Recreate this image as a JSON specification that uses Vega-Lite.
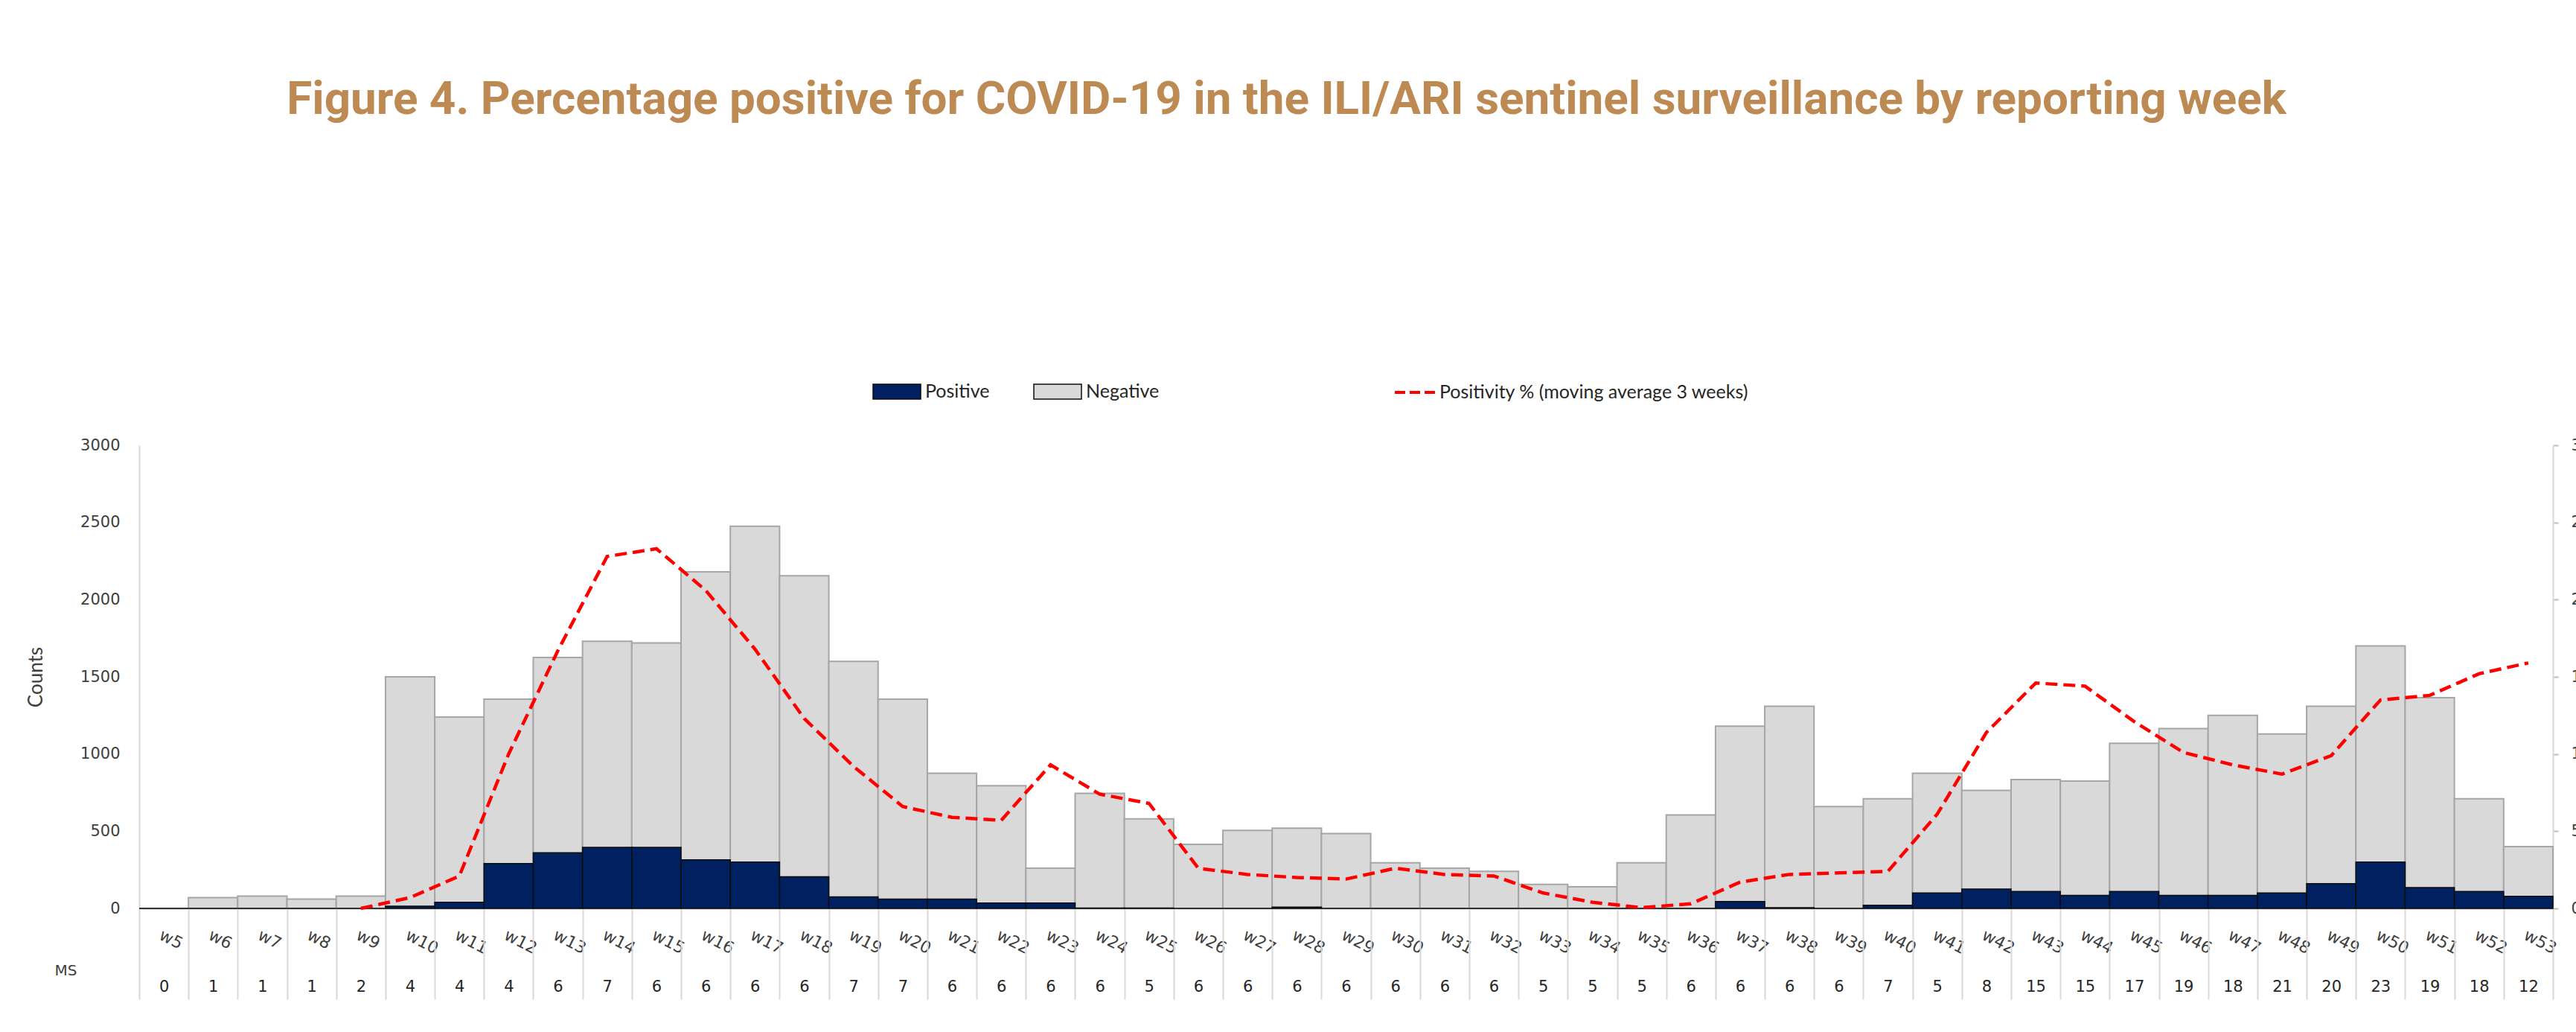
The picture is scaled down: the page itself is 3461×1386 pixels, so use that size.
{
  "$schema": "https://vega.github.io/schema/vega-lite/v6.json",
  "width": 3243,
  "height": 622,
  "autosize": {"type": "none"},
  "padding": {"left": 187, "top": 598, "right": 31, "bottom": 166},
  "background": "white",
  "title": {
    "text": "Figure 4. Percentage positive for COVID-19 in the ILI/ARI sentinel surveillance by reporting week",
    "font": "Liberation Sans Narrow, Roboto",
    "fontSize": 62,
    "fontWeight": "bold",
    "color": "#BC8A52",
    "anchor": "middle",
    "dx": -80,
    "offset": 327
  },
  "data": {
    "values": [
      {"week_ms": "w5|0", "tested": 0, "positive": 0, "pct": null},
      {"week_ms": "w6|1", "tested": 70, "positive": 0, "pct": null},
      {"week_ms": "w7|1", "tested": 80, "positive": 0, "pct": null},
      {"week_ms": "w8|1", "tested": 60, "positive": 0, "pct": null},
      {"week_ms": "w9|2", "tested": 80, "positive": 0, "pct": 0},
      {"week_ms": "w10|4", "tested": 1500, "positive": 15, "pct": 0.7},
      {"week_ms": "w11|4", "tested": 1240, "positive": 40, "pct": 2.1},
      {"week_ms": "w12|4", "tested": 1355, "positive": 290, "pct": 10.0},
      {"week_ms": "w13|6", "tested": 1625, "positive": 360, "pct": 16.7},
      {"week_ms": "w14|7", "tested": 1730, "positive": 395, "pct": 22.8},
      {"week_ms": "w15|6", "tested": 1720, "positive": 395, "pct": 23.3},
      {"week_ms": "w16|6", "tested": 2180, "positive": 315, "pct": 20.6},
      {"week_ms": "w17|6", "tested": 2475, "positive": 300, "pct": 16.8},
      {"week_ms": "w18|6", "tested": 2155, "positive": 205, "pct": 12.3},
      {"week_ms": "w19|7", "tested": 1600, "positive": 75, "pct": 9.2},
      {"week_ms": "w20|7", "tested": 1355, "positive": 60, "pct": 6.6},
      {"week_ms": "w21|6", "tested": 875, "positive": 60, "pct": 5.9},
      {"week_ms": "w22|6", "tested": 795, "positive": 35, "pct": 5.7},
      {"week_ms": "w23|6", "tested": 260, "positive": 35, "pct": 9.3},
      {"week_ms": "w24|6", "tested": 745, "positive": 3, "pct": 7.4},
      {"week_ms": "w25|5", "tested": 580, "positive": 3, "pct": 6.8},
      {"week_ms": "w26|6", "tested": 415, "positive": 0, "pct": 2.6},
      {"week_ms": "w27|6", "tested": 505, "positive": 0, "pct": 2.2},
      {"week_ms": "w28|6", "tested": 520, "positive": 8, "pct": 2.0},
      {"week_ms": "w29|6", "tested": 485, "positive": 0, "pct": 1.9},
      {"week_ms": "w30|6", "tested": 295, "positive": 0, "pct": 2.6},
      {"week_ms": "w31|6", "tested": 260, "positive": 0, "pct": 2.2},
      {"week_ms": "w32|6", "tested": 240, "positive": 0, "pct": 2.1},
      {"week_ms": "w33|5", "tested": 155, "positive": 0, "pct": 1.0},
      {"week_ms": "w34|5", "tested": 140, "positive": 0, "pct": 0.4},
      {"week_ms": "w35|5", "tested": 295, "positive": 0, "pct": 0.05},
      {"week_ms": "w36|6", "tested": 605, "positive": 0, "pct": 0.3},
      {"week_ms": "w37|6", "tested": 1180, "positive": 45, "pct": 1.7},
      {"week_ms": "w38|6", "tested": 1310, "positive": 5, "pct": 2.2},
      {"week_ms": "w39|6", "tested": 660, "positive": 0, "pct": 2.3},
      {"week_ms": "w40|7", "tested": 710, "positive": 20, "pct": 2.4},
      {"week_ms": "w41|5", "tested": 875, "positive": 100, "pct": 6.1},
      {"week_ms": "w42|8", "tested": 765, "positive": 125, "pct": 11.4},
      {"week_ms": "w43|15", "tested": 835, "positive": 110, "pct": 14.6},
      {"week_ms": "w44|15", "tested": 825, "positive": 85, "pct": 14.4},
      {"week_ms": "w45|17", "tested": 1070, "positive": 110, "pct": 12.1},
      {"week_ms": "w46|19", "tested": 1165, "positive": 85, "pct": 10.1},
      {"week_ms": "w47|18", "tested": 1250, "positive": 85, "pct": 9.3},
      {"week_ms": "w48|21", "tested": 1130, "positive": 100, "pct": 8.7},
      {"week_ms": "w49|20", "tested": 1310, "positive": 160, "pct": 9.9},
      {"week_ms": "w50|23", "tested": 1700, "positive": 300, "pct": 13.5},
      {"week_ms": "w51|19", "tested": 1365, "positive": 135, "pct": 13.8},
      {"week_ms": "w52|18", "tested": 710, "positive": 110, "pct": 15.2},
      {"week_ms": "w53|12", "tested": 400, "positive": 78, "pct": 15.9}
    ]
  },
  "layer": [
    {
      "layer": [
        {
          "mark": {"type": "bar", "stroke": "#A6A6A6", "strokeWidth": 2},
          "encoding": {
            "x": {
              "field": "week_ms", "type": "ordinal", "sort": null,
              "scale": {"paddingInner": 0, "paddingOuter": 0},
              "axis": {
                "orient": "bottom",
                "title": null,
                "labelExpr": "split(datum.value, '|')[0]",
                "labelAngle": 27,
                "labelAlign": "left",
                "labelBaseline": "top",
                "labelFont": "DejaVu Sans",
                "labelFontSize": 22,
                "labelColor": "#404040",
                "labelPadding": 25,
                "ticks": false,
                "domainColor": "#BFBFBF",
                "domainWidth": 2,
                "grid": false
              }
            },
            "y": {
              "field": "tested", "type": "quantitative",
              "scale": {"domain": [0, 3000], "nice": false},
              "axis": {
                "orient": "left",
                "values": [0, 500, 1000, 1500, 2000, 2500, 3000],
                "format": "d",
                "title": "Counts",
                "titleFont": "Lato",
                "titleFontSize": 26,
                "titleFontWeight": "normal",
                "titleColor": "#404040",
                "titlePadding": 46,
                "ticks": false,
                "labelPadding": 26,
                "labelFont": "DejaVu Sans",
                "labelFontSize": 21,
                "labelColor": "#404040",
                "domainColor": "#D9D9D9",
                "domainWidth": 2,
                "grid": false
              }
            },
            "color": {
              "datum": "Negative",
              "scale": {"domain": ["Positive", "Negative"], "range": ["#002060", "#D9D9D9"]},
              "legend": {
                "title": null,
                "orient": "none",
                "legendX": 985,
                "legendY": -105,
                "direction": "horizontal",
                "symbolType": "M-1,-0.3125H1V0.3125H-1Z",
                "symbolSize": 4096,
                "symbolStrokeColor": "#7F7F7F",
                "symbolStrokeWidth": 1.5,
                "labelFont": "Lato",
                "labelFontSize": 25,
                "labelColor": "#262626",
                "labelOffset": 5,
                "labelLimit": 0,
                "columnPadding": 56
              }
            }
          }
        },
        {
          "mark": {"type": "bar", "stroke": "#0D0D0D", "strokeWidth": 1.5},
          "encoding": {
            "x": {"field": "week_ms", "type": "ordinal", "sort": null},
            "y": {"field": "positive", "type": "quantitative"},
            "color": {"datum": "Positive"}
          }
        }
      ]
    },
    {
      "mark": {"type": "line", "strokeDash": [16, 8], "strokeWidth": 4.5},
      "encoding": {
        "x": {
          "field": "week_ms", "type": "ordinal", "sort": null,
          "axis": {
            "orient": "bottom",
            "title": "MS",
            "titleFont": "DejaVu Sans",
            "titleFontSize": 20,
            "titleFontWeight": "normal",
            "titleColor": "#404040",
            "titleAngle": 0,
            "titleAlign": "center",
            "titleBaseline": "middle",
            "titleX": -99,
            "titleY": 83,
            "labelExpr": "split(datum.value, '|')[1]",
            "labelAngle": 0,
            "labelAlign": "center",
            "labelBaseline": "middle",
            "labelFont": "DejaVu Sans",
            "labelFontSize": 21,
            "labelColor": "#262626",
            "labelPadding": -17,
            "ticks": true,
            "tickBand": "extent",
            "tickSize": 122,
            "tickColor": "#D9D9D9",
            "tickWidth": 2,
            "domain": false,
            "grid": false
          }
        },
        "y": {
          "field": "pct", "type": "quantitative",
          "scale": {"domain": [0, 30], "nice": false},
          "axis": {
            "orient": "right",
            "title": null,
            "values": [0, 5, 10, 15, 20, 25, 30],
            "tickSize": 7,
            "tickColor": "#BFBFBF",
            "tickWidth": 2,
            "domainColor": "#D9D9D9",
            "domainWidth": 2,
            "labelPadding": 17,
            "labelFont": "DejaVu Sans",
            "labelFontSize": 21,
            "labelColor": "#404040",
            "grid": false
          }
        },
        "stroke": {
          "datum": "Positivity % (moving average 3 weeks)",
          "scale": {"range": ["#FF0000"]},
          "legend": {
            "title": null,
            "orient": "none",
            "legendX": 1685,
            "legendY": -100,
            "symbolType": "stroke",
            "symbolSize": 2916,
            "symbolStrokeWidth": 4,
            "symbolDash": [14, 6],
            "labelFont": "Lato",
            "labelFontSize": 25,
            "labelColor": "#262626",
            "labelOffset": 4,
            "labelLimit": 0
          }
        }
      }
    }
  ],
  "resolve": {"scale": {"y": "independent"}, "axis": {"x": "independent"}},
  "config": {"view": {"stroke": null}}
}
